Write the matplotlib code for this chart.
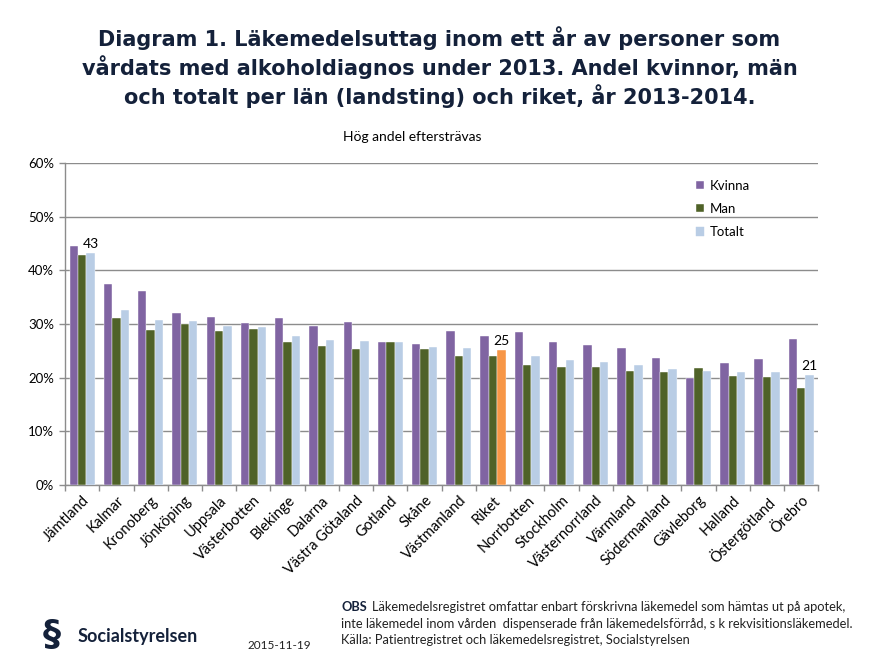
# -*- coding: utf-8 -*-

import matplotlib
matplotlib.use('Agg')
import matplotlib.pyplot as plt
import numpy as np

lan = ['Jämtland', 'Kalmar', 'Kronoberg', 'Jönköping', 'Uppsala', 'Västerbotten',
       'Blekinge', 'Dalarna', 'Västra Götaland', 'Gotland', 'Skåne', 'Västmanland',
       'Riket', 'Norrbotten', 'Stockholm', 'Västernorrland', 'Värmland',
       'Södermanland', 'Gävleborg', 'Halland', 'Östergötland', 'Örebro']

kvinna = [44.5, 37.5, 36.1, 32.0, 31.4, 30.2, 31.1, 29.6, 30.3, 26.6, 26.2, 28.7,
          27.8, 28.5, 26.6, 26.1, 25.5, 23.6, 19.9, 22.7, 23.4, 27.3]
man = [42.9, 31.1, 28.9, 30.0, 28.7, 29.1, 26.6, 26.0, 25.3, 26.6, 25.3, 24.0,
       24.0, 22.4, 21.9, 21.9, 21.2, 21.0, 21.8, 20.4, 20.1, 18.0]
totalt = [43.2, 32.6, 30.7, 30.6, 29.6, 29.4, 27.8, 27.1, 26.8, 26.6, 25.7, 25.5,
          25.2, 24.0, 23.3, 23.0, 22.4, 21.7, 21.2, 21.1, 21.1, 20.5]

etiketter = {'Jämtland': '43', 'Riket': '25', 'Örebro': '21'}

titel = ('Diagram 1. Läkemedelsuttag inom ett år av personer som\n'
         'vårdats med alkoholdiagnos under 2013. Andel kvinnor, män\n'
         'och totalt per län (landsting) och riket, år 2013-2014.')
undertitel = 'Hög andel eftersträvas'
obs_rad1 = 'Läkemedelsregistret omfattar enbart förskrivna läkemedel som hämtas ut på apotek,'
obs_rad2 = 'inte läkemedel inom vården  dispenserade från läkemedelsförråd, s k rekvisitionsläkemedel.'
obs_rad3 = 'Källa: Patientregistret och läkemedelsregistret, Socialstyrelsen'


def main():
    plt.rcParams['font.family'] = ['Lato', 'DejaVu Sans']

    fig = plt.figure(figsize=(8.79, 6.63), dpi=100)
    ax = fig.add_axes([0.074, 0.2685, 0.857, 0.4855])

    lila = '#8064A2'
    gron = '#4F6228'
    bla = '#B9CDE5'
    orange = '#F79646'
    gra = '#8C8C8C'
    navy = '#14213A'

    x = np.arange(len(lan))
    w = 0.245
    tot_farg = [orange if n == 'Riket' else bla for n in lan]

    ax.bar(x - w, kvinna, w, color=lila, edgecolor='white', linewidth=0.3,
           label='Kvinna', zorder=3)
    ax.bar(x, man, w, color=gron, edgecolor='white', linewidth=0.3,
           label='Man', zorder=3)
    ax.bar(x + w, totalt, w, color=tot_farg, edgecolor='white', linewidth=0.3,
           label='Totalt', zorder=3)

    for i, n in enumerate(lan):
        if n in etiketter:
            ax.text(x[i] + w, totalt[i] + 0.6, etiketter[n], ha='center',
                    va='bottom', fontsize=10, zorder=4)

    ax.set_xlim(-0.5, len(lan) - 0.5)
    ax.set_ylim(0, 60)
    ax.set_yticks(np.arange(0, 61, 10))
    ax.set_yticklabels([f'{v}%' for v in range(0, 61, 10)], fontsize=9.5)
    ax.yaxis.grid(True, color=gra, linewidth=1)
    ax.set_axisbelow(True)

    ax.set_xticks(x)
    ax.set_xticklabels(lan, rotation=45, ha='right', va='top',
                       rotation_mode='anchor', fontsize=10.5)
    ax.tick_params(axis='x', length=0, pad=6)
    ax.set_xticks(np.arange(-0.5, len(lan), 1), minor=True)
    ax.tick_params(axis='x', which='minor', length=4, color=gra, width=1)
    ax.tick_params(axis='y', length=4, color=gra, width=1, pad=4)

    for s in ['top', 'right']:
        ax.spines[s].set_visible(False)
    for s in ['left', 'bottom']:
        ax.spines[s].set_color(gra)
        ax.spines[s].set_linewidth(1)

    fig.legend(loc='upper left', bbox_to_anchor=(0.786, 0.737), frameon=False,
               fontsize=9.5, handlelength=0.6, handleheight=0.6,
               handletextpad=0.4, labelspacing=0.85, borderaxespad=0)
    leg = fig.legends[0]
    leg.legend_handles[2].set_color(bla)

    fig.text(0.5, 0.899, titel, ha='center', va='center', fontsize=15,
             fontweight='bold', family='DejaVu Sans', linespacing=1.25,
             color=navy)
    fig.text(0.469, 0.793, undertitel, ha='center', va='center', fontsize=10)

    # sidfot
    fig.text(0.059, 0.042, '§', ha='center', va='center', fontsize=26,
             fontweight='bold', color=navy, family='DejaVu Sans')
    fig.text(0.088, 0.040, 'Socialstyrelsen', ha='left', va='center',
             fontsize=13, fontweight='bold', color=navy)
    fig.text(0.318, 0.027, '2015-11-19', ha='center', va='center', fontsize=8.5,
             color='#222222')

    fs = 9.3
    fig.text(0.388, 0.084, 'OBS', ha='left', va='center', fontsize=fs,
             fontweight='bold', color=navy)
    fig.text(0.423, 0.084, obs_rad1, ha='left', va='center', fontsize=fs,
             color='#222222')
    fig.text(0.388, 0.059, obs_rad2, ha='left', va='center', fontsize=fs,
             color='#222222')
    fig.text(0.388, 0.034, obs_rad3, ha='left', va='center', fontsize=fs,
             color='#222222')

    fig.savefig('out.png', dpi=100)
    plt.close(fig)


if __name__ == '__main__':
    main()
